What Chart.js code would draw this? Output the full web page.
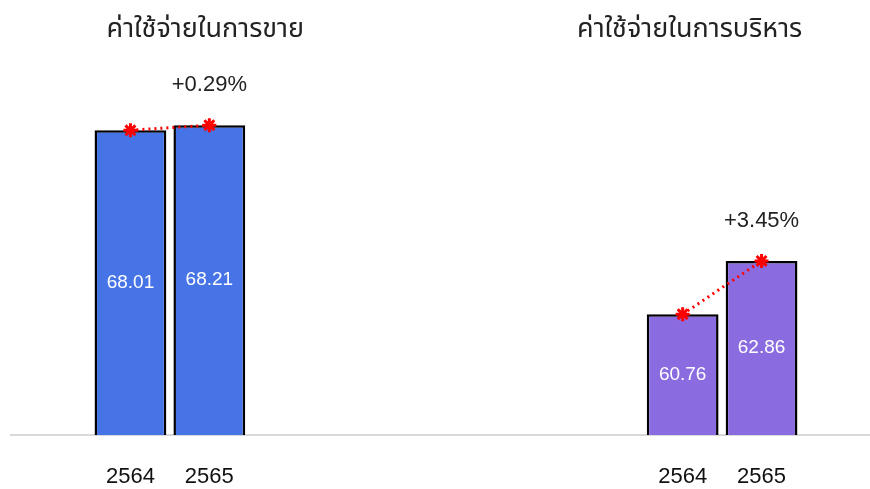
<!DOCTYPE html>
<html>
<head>
<meta charset="utf-8">
<script src="https://cdn.jsdelivr.net/npm/chart.js@4.4.1/dist/chart.umd.min.js"></script>
<style>
    html, body { margin: 0; padding: 0; background: #ffffff; }
    #wrap { width: 870px; height: 489px; }
</style>
</head>
<body>
<div id="wrap"><canvas id="expenseChart" width="870" height="489"></canvas></div>
<script>
const years = ['2564', '2565'];
const sellingValues = [68.01, 68.21];
const adminValues = [60.76, 62.86];
const groupTitles = ['ค่าใช้จ่ายในการขาย', 'ค่าใช้จ่ายในการบริหาร'];
const changeLabels = ['+0.29%', '+3.45%'];
const groupColors = ['#4674E6', '#8A6CE0'];

document.addEventListener('DOMContentLoaded', function () {
    const gap = 5;
    const blanks = new Array(gap).fill('');
    const blankValues = new Array(gap).fill(null);

    const labels = [...years, ...blanks, ...years];
    const barValues = [...sellingValues, ...blankValues, ...adminValues];
    const barColors = [
        ...years.map(() => groupColors[0]),
        ...blanks.map(() => 'transparent'),
        ...years.map(() => groupColors[1])
    ];
    const firstIndex = [0, years.length + gap];

    const fontFamily = 'Arial, "Liberation Sans", "Noto Sans", sans-serif';
    const thaiFont = 'Tahoma, "Noto Sans Thai", "Leelawadee UI", "Noto Sans", "DejaVu Sans", sans-serif';

    const overlayPlugin = {
        id: 'overlay',
        beforeDatasetsDraw(chart) {
            const ctx = chart.ctx;
            const y = chart.scales.y.getPixelForValue(chart.scales.y.min);
            ctx.save();
            ctx.strokeStyle = '#d9d9d9';
            ctx.lineWidth = 2;
            ctx.beginPath();
            ctx.moveTo(10, y);
            ctx.lineTo(chart.width, y);
            ctx.stroke();
            ctx.restore();
        },
        afterDraw(chart) {
            const ctx = chart.ctx;
            const xs = chart.scales.x;
            const ys = chart.scales.y;
            const bottom = ys.getPixelForValue(ys.min);
            ctx.save();
            ctx.textAlign = 'center';
            ctx.textBaseline = 'middle';

            // values inside the bars
            ctx.fillStyle = '#ffffff';
            ctx.font = '19px ' + fontFamily;
            barValues.forEach(function (v, i) {
                if (v === null) return;
                const x = xs.getPixelForValue(i);
                const top = ys.getPixelForValue(v);
                ctx.fillText(v.toFixed(2), x, (top + bottom) / 2);
            });

            // change labels above the second bar of each group
            ctx.fillStyle = '#222222';
            ctx.font = '22px ' + fontFamily;
            firstIndex.forEach(function (start, g) {
                const i = start + 1;
                ctx.fillText(changeLabels[g], xs.getPixelForValue(i), ys.getPixelForValue(barValues[i]) - 40);
            });

            // group titles
            ctx.font = '27px ' + thaiFont;
            ctx.fillText(groupTitles[0], xs.getPixelForValue(1) - 4, 32);
            ctx.fillText(groupTitles[1], xs.getPixelForValue(firstIndex[1]) + 7, 32);
            ctx.restore();
        }
    };

    new Chart(document.getElementById('expenseChart').getContext('2d'), {
        data: {
            labels: labels,
            datasets: [
                {
                    type: 'line',
                    data: barValues,
                    order: 0,
                    borderColor: '#ff0000',
                    borderWidth: 3,
                    borderDash: [2, 4],
                    pointStyle: 'star',
                    pointRadius: 7,
                    pointBorderWidth: 3,
                    pointBorderColor: '#ff0000',
                    pointBackgroundColor: '#ff0000',
                    fill: false,
                    spanGaps: false
                },
                {
                    type: 'bar',
                    data: barValues,
                    order: 1,
                    backgroundColor: barColors,
                    borderColor: '#000000',
                    borderWidth: 2.5,
                    borderSkipped: false,
                    barPercentage: 0.91,
                    categoryPercentage: 1.0
                }
            ]
        },
        options: {
            responsive: false,
            animation: false,
            layout: { padding: { top: 7, left: 91, right: 69, bottom: 0 } },
            plugins: {
                legend: { display: false },
                tooltip: { enabled: false }
            },
            scales: {
                x: {
                    grid: { display: false, drawTicks: false },
                    border: { display: false },
                    afterFit: function (scale) { scale.height = 54; },
                    ticks: {
                        color: '#111111',
                        padding: 29,
                        maxRotation: 0,
                        autoSkip: false,
                        font: { family: fontFamily, size: 22 }
                    }
                },
                y: {
                    display: false,
                    min: 56,
                    max: 72.75
                }
            }
        },
        plugins: [overlayPlugin]
    });
});
</script>
</body>
</html>
